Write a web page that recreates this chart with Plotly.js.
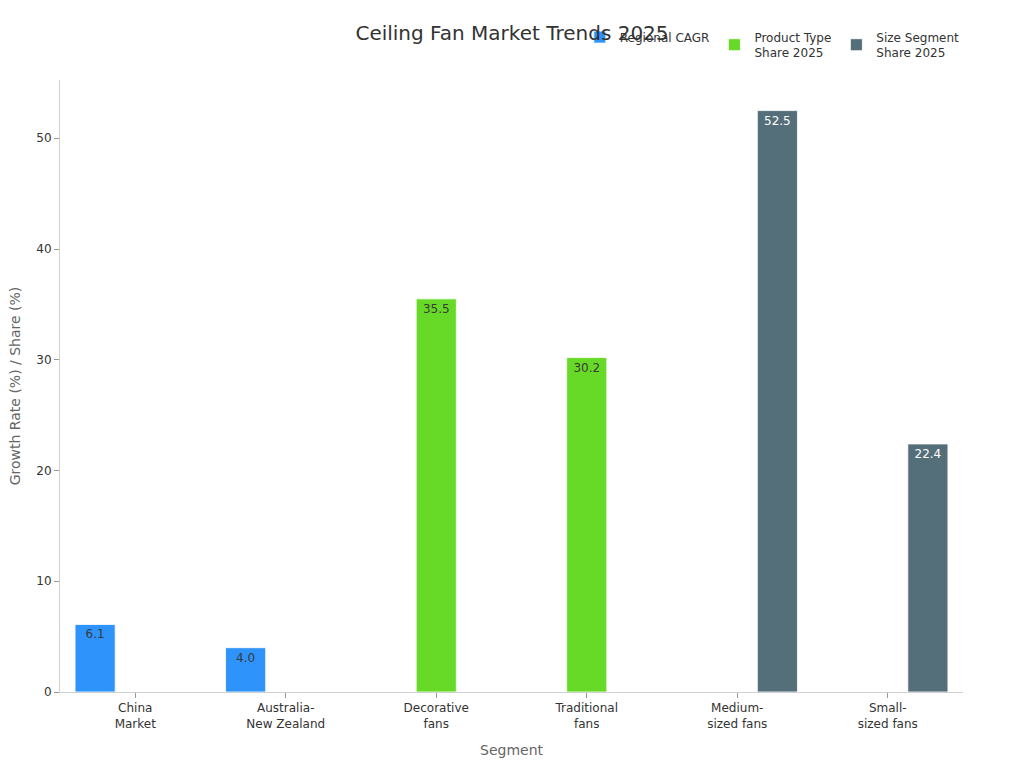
<!DOCTYPE html>
<html>
<head>
<meta charset="utf-8">
<script src="https://cdn.plot.ly/plotly-3.0.1.min.js"></script>
<style>html,body{margin:0;padding:0;background:#fff;}#chart{width:1024px;height:768px;}</style>
</head>
<body>
<div id="chart"></div>
<script>
const categories = ["China<br>Market", "Australia-<br>New Zealand", "Decorative<br>fans", "Traditional<br>fans", "Medium-<br>sized fans", "Small-<br>sized fans"];
const regionalCAGR = [6.1, 4.0, null, null, null, null];
const productTypeShare = [null, null, 35.5, 30.2, null, null];
const sizeSegmentShare = [null, null, null, null, 52.5, 22.4];
const seriesNames = ["Regional CAGR", "Product Type<br>Share 2025", "Size Segment<br>Share 2025"];
const colors = ["#2E93FA", "#66DA26", "#546E7A"];

function mk(vals, i) {
  return {
    type: 'bar', x: categories, y: vals, name: seriesNames[i],
    marker: {color: colors[i], line: {color: 'rgba(255,255,255,0.8)', width: 1}},
    text: vals.map(v => v === null ? '' : v.toFixed(1)),
    textposition: 'inside', insidetextanchor: 'end',
    textfont: {size: 12, color: i === 2 ? '#ffffff' : '#3a3a3a'},
    hoverinfo: 'x+y'
  };
}
const data = [mk(regionalCAGR, 0), mk(productTypeShare, 1), mk(sizeSegmentShare, 2)];
const layout = {
  width: 1024, height: 768,
  font: {family: 'DejaVu Sans, sans-serif', color: '#333'},
  title: {text: 'Ceiling Fan Market Trends 2025', font: {size: 20, color: '#333'}, x: 0.5, xanchor: 'center', y: 0.957, yanchor: 'middle'},
  margin: {l: 60, r: 61, t: 80, b: 76},
  barmode: 'group', bargap: 0.2, bargroupgap: 0,
  showlegend: true,
  legend: {orientation: 'h', x: 1.002, xanchor: 'right', y: 1.057, yanchor: 'middle', font: {size: 12, color: '#333'}},
  xaxis: {
    title: {text: 'Segment', font: {size: 14, color: '#666'}, standoff: 15},
    showline: true, linecolor: '#d0d0d0', linewidth: 1,
    ticks: 'outside', tickcolor: '#999', ticklen: 5,
    tickfont: {size: 12, color: '#333'}, showgrid: false, zeroline: false
  },
  yaxis: {
    title: {text: 'Growth Rate (%) / Share (%)', font: {size: 14, color: '#666'}, standoff: 12},
    showline: true, linecolor: '#d0d0d0', linewidth: 1,
    ticks: 'outside', tickcolor: '#999', ticklen: 5,
    tickfont: {size: 12, color: '#333'}, showgrid: false, zeroline: false,
    dtick: 10
  },
  plot_bgcolor: '#fff', paper_bgcolor: '#fff'
};
Plotly.newPlot('chart', data, layout, {displayModeBar: false});
</script>
</body>
</html>
